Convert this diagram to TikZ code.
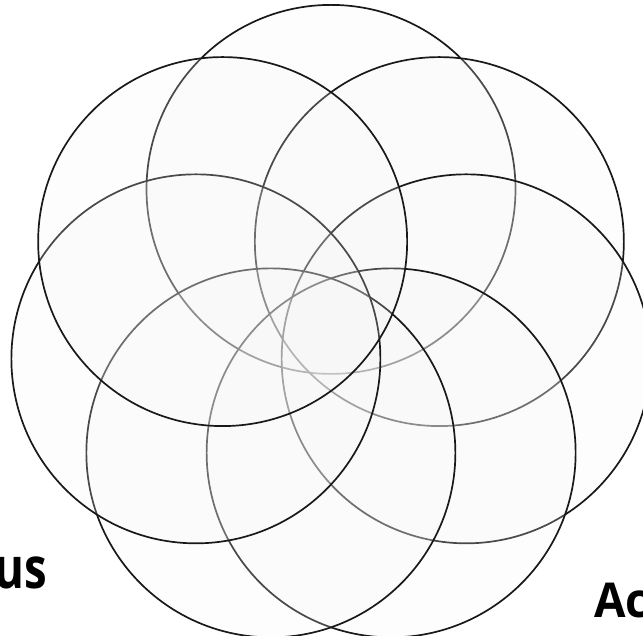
\documentclass[tikz,border=0pt]{standalone}
\usepackage{fontspec}
\setmainfont{Open Sans}
\begin{document}
\begin{tikzpicture}[x=1pt,y=-1pt,
  petal/.style={circle,draw=black!90,line width=1.7pt,fill=black!4,fill opacity=0.22,
    minimum size=369pt,inner sep=0pt},
  word/.style={inner sep=0pt,font=\bfseries\fontsize{48}{50}\selectfont}]
\clip (0,0) rectangle (643,636);
% centre of the rosette
\coordinate (mid) at (331,328);

% seven circles round the centre
\foreach \i in {0,...,6}
  \node[petal] (c\i) at ([shift={(270+\i*360/7:138.6)}]mid) {};

% cut-off words at the bottom
\node[word,anchor=base east,xscale=0.8,font=\bfseries\fontsize{57}{60}\selectfont] (us) at (47,588) {us};
\node[word,anchor=base west,xscale=0.95] (ac) at (594,617) {Ac};
\end{tikzpicture}
\end{document}
